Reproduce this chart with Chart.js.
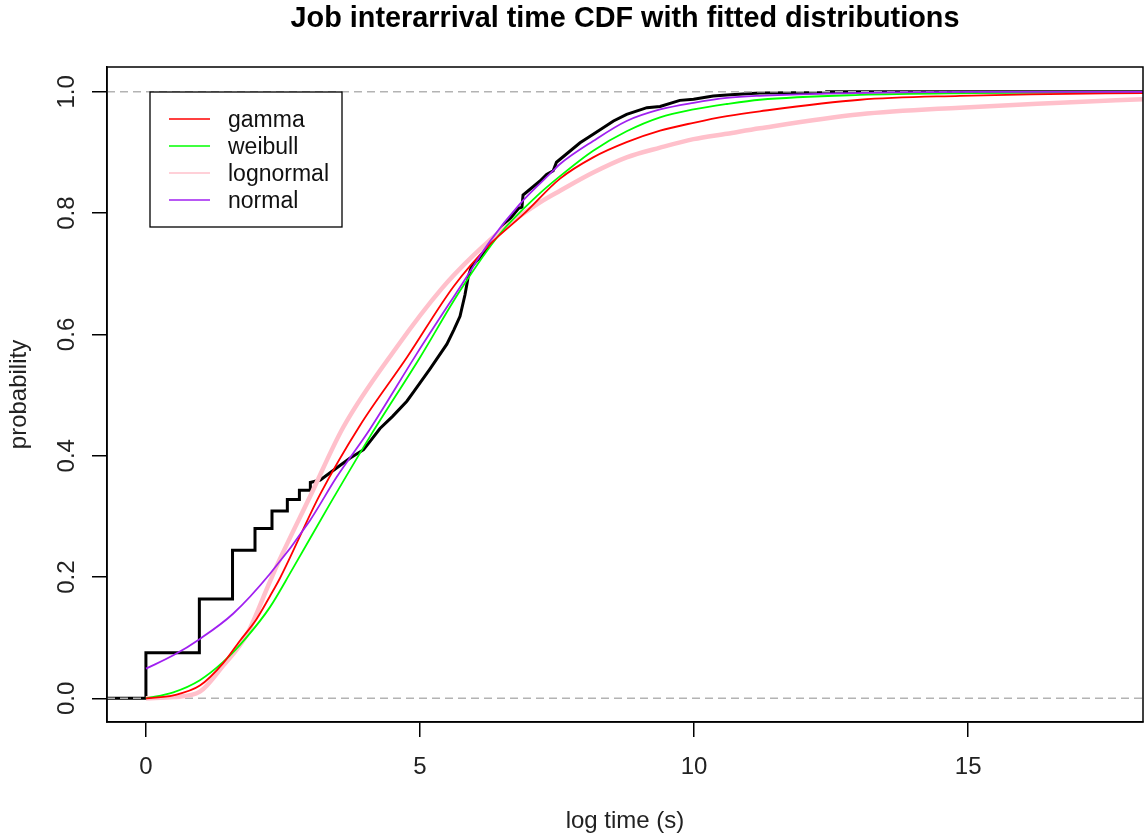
<!DOCTYPE html>
<html>
<head>
<meta charset="utf-8">
<title>Job interarrival time CDF</title>
<script src="https://cdn.jsdelivr.net/npm/chart.js@4/dist/chart.umd.min.js"></script>
<style>
  html, body { margin: 0; padding: 0; background: #fff; }
</style>
</head>
<body>
<canvas id="grafico" width="1146" height="837"></canvas>
<script>
const titulo = "Job interarrival time CDF with fitted distributions";

// plot range (log seconds / probability) and tick positions
const xMin = -0.71;
const xMax = 18.19;
const yMin = -0.039;
const yMax = 1.041;
const xTicks = [0, 5, 10, 15];
const yTicks = [0, 0.2, 0.4, 0.6, 0.8, 1.0];

// empirical CDF, corners of the steps
const ecdfX = [-0.71, 0, 0, 0.975, 0.975, 1.58, 1.58, 1.99, 1.99, 2.30, 2.30, 2.58, 2.58, 2.80, 2.80, 3.00, 3.00,
  3.18, 3.36, 3.54, 3.72, 3.97, 4.10, 4.27, 4.50, 4.76, 4.88, 5.18, 5.49, 5.62, 5.73, 5.82, 5.88, 5.94, 6.09,
  6.46, 6.80, 6.86, 6.88, 7.19, 7.31, 7.43, 7.49, 7.92, 8.16, 8.53, 8.77, 9.14, 9.38, 9.74, 9.99, 10.35, 10.6,
  10.96, 11.2, 12.42, 12.42, 18.19];
const ecdfY = [0, 0, 0.075, 0.075, 0.164, 0.164, 0.244, 0.244, 0.280, 0.280, 0.309, 0.309, 0.328, 0.328, 0.343, 0.343, 0.356,
  0.360, 0.372, 0.384, 0.396, 0.410, 0.425, 0.445, 0.465, 0.490, 0.505, 0.543, 0.584, 0.608, 0.630, 0.665, 0.695, 0.712, 0.727,
  0.771, 0.808, 0.810, 0.830, 0.853, 0.864, 0.870, 0.884, 0.916, 0.930, 0.952, 0.963, 0.974, 0.976, 0.986, 0.988, 0.993, 0.995,
  0.997, 0.998, 0.999, 1.0, 1.0];

// fitted CDFs
const gammaX = [0, 0.5, 0.985, 1.41, 1.715, 2.02, 2.26, 2.445, 3.175, 3.905, 4.76, 5.62, 6.28, 6.885, 7.555, 8.16, 8.77,
  9.38, 9.99, 10.6, 11.2, 13.03, 14.85, 16.13, 18.19];
const gammaY = [0, 0.005, 0.021, 0.058, 0.095, 0.131, 0.168, 0.198, 0.336, 0.450, 0.562, 0.680, 0.749, 0.798, 0.857, 0.892, 0.917,
  0.936, 0.949, 0.960, 0.968, 0.987, 0.9935, 0.996, 0.998];

const weibullX = [0, 0.5, 0.985, 1.41, 1.84, 2.26, 2.66, 3.36, 4.09, 5.0, 5.73, 6.46, 7.13, 7.555, 8.16, 8.77, 9.38, 9.99,
  10.6, 11.2, 13.03, 15.09, 18.19];
const weibullY = [0, 0.010, 0.030, 0.060, 0.101, 0.150, 0.211, 0.321, 0.432, 0.562, 0.672, 0.766, 0.828, 0.861, 0.903, 0.935,
  0.958, 0.971, 0.980, 0.987, 0.995, 0.998, 1.0];

const lognormalX = [0, 0.5, 0.985, 1.41, 1.84, 2.26, 2.385, 2.99, 3.60, 4.575, 5.4, 5.97, 6.58, 7.19, 7.555, 8.16, 8.77,
  9.38, 9.99, 10.6, 11.2, 13.03, 14.85, 16.68, 18.19];
const lognormalY = [0, 0.002, 0.011, 0.054, 0.105, 0.192, 0.218, 0.332, 0.447, 0.579, 0.676, 0.730, 0.779, 0.818, 0.837, 0.867,
  0.892, 0.908, 0.922, 0.931, 0.940, 0.963, 0.974, 0.982, 0.988];

const normalX = [0, 0.5, 0.985, 1.59, 2.26, 2.99, 3.48, 4.08, 4.94, 5.73, 6.28, 6.82, 7.43, 7.555, 8.16, 8.77, 9.38, 9.99,
  10.6, 11.2, 12.42, 13.6, 15, 18.19];
const normalY = [0.049, 0.071, 0.098, 0.1395, 0.205, 0.293, 0.365, 0.443, 0.568, 0.678, 0.754, 0.815, 0.870, 0.881, 0.919,
  0.952, 0.971, 0.982, 0.990, 0.9935, 0.997, 0.999, 1.0, 1.0];

// dashed reference levels
const refLevels = [0, 1];

const fitNames = ["gamma", "weibull", "lognormal", "normal"];
const fitColors = ["#ff0000", "#00ff00", "#ffc0cb", "#a020f0"];

const pts = (xs, ys) => xs.map((x, i) => ({ x, y: ys[i] }));

const fonte = '"Liberation Sans", Arial, sans-serif';
Chart.defaults.font.family = fonte;

// frame, title and legend box drawn R-style
const moldura = {
  id: "moldura",
  afterDraw(chart) {
    const { ctx, chartArea: a } = chart;
    ctx.save();
    ctx.strokeStyle = "#000";
    ctx.lineWidth = 1.5;
    ctx.strokeRect(a.left, a.top, a.right - a.left, a.bottom - a.top);

    ctx.fillStyle = "#000";
    ctx.font = "bold 28.8px " + fonte;
    ctx.textAlign = "center";
    ctx.textBaseline = "middle";
    ctx.fillText(titulo, (a.left + a.right) / 2, 19);

    const lx = a.left + 43, ly = a.top + 25;
    ctx.fillStyle = "#fff";
    ctx.fillRect(lx, ly, 192, 135);
    ctx.lineWidth = 1.3;
    ctx.strokeRect(lx, ly, 192, 135);
    ctx.font = "23px " + fonte;
    ctx.textAlign = "left";
    fitNames.forEach((nome, i) => {
      const y = ly + 27 + i * 27;
      ctx.strokeStyle = fitColors[i];
      ctx.lineWidth = 1.5;
      ctx.beginPath();
      ctx.moveTo(lx + 19, y);
      ctx.lineTo(lx + 60, y);
      ctx.stroke();
      ctx.fillStyle = "#111";
      ctx.fillText(nome, lx + 78, y + 2);
    });
    ctx.restore();
  }
};

const linha = (label, data, cor, largura, ordem) => ({
  label, data, borderColor: cor, borderWidth: largura, order: ordem,
  pointRadius: 0, fill: false, tension: 0
});

// fitted curves are smooth, so let the library interpolate them
const curva = (label, data, cor, largura, ordem) => ({
  ...linha(label, data, cor, largura, ordem),
  cubicInterpolationMode: "monotone"
});

const datasets = [
  curva("normal", pts(normalX, normalY), fitColors[3], 1.8, 1),
  curva("gamma", pts(gammaX, gammaY), fitColors[0], 1.8, 2),
  curva("weibull", pts(weibullX, weibullY), fitColors[1], 1.8, 3),
  curva("lognormal", pts(lognormalX, lognormalY), fitColors[2], 4.5, 4),
  ...refLevels.map((h, i) => ({
    ...linha("ref" + i, [{ x: xMin, y: h }, { x: xMax, y: h }], "#b3b3b3", 1.5, 5),
    borderDash: [8, 5]
  })),
  linha("ecdf", pts(ecdfX, ecdfY), "#000", 3, 6)
];

new Chart(document.getElementById("grafico"), {
  type: "line",
  data: { datasets },
  plugins: [moldura],
  options: {
    responsive: false,
    animation: false,
    devicePixelRatio: 1,
    layout: { padding: { top: 67, right: 3, bottom: 0, left: 0 } },
    plugins: { legend: { display: false }, tooltip: { enabled: false } },
    scales: {
      x: {
        type: "linear",
        min: xMin,
        max: xMax,
        afterBuildTicks: s => { s.ticks = xTicks.map(v => ({ value: v })); },
        afterFit: s => { s.height = 115; },
        grid: { drawOnChartArea: false, drawTicks: true, tickLength: 15, color: "#000", lineWidth: 1.5 },
        border: { display: true, color: "#000", width: 1.5 },
        ticks: { padding: 16, color: "#222", font: { size: 24 }, maxRotation: 0, callback: v => String(v) },
        title: { display: true, text: "log time (s)", color: "#222", font: { size: 24 }, padding: { top: 0, bottom: 1 } }
      },
      y: {
        type: "linear",
        min: yMin,
        max: yMax,
        afterBuildTicks: s => { s.ticks = yTicks.map(v => ({ value: v })); },
        afterFit: s => { s.width = 107; },
        grid: { drawOnChartArea: false, drawTicks: true, tickLength: 15, color: "#000", lineWidth: 1.5 },
        border: { display: true, color: "#000", width: 1.5 },
        ticks: { padding: 8, color: "#222", font: { size: 24 }, minRotation: 90, maxRotation: 90,
          crossAlign: "center", callback: v => v.toFixed(1) },
        title: { display: true, text: "probability", color: "#222", font: { size: 24 }, padding: { top: 5, bottom: 0 } }
      }
    }
  }
});
</script>
</body>
</html>
